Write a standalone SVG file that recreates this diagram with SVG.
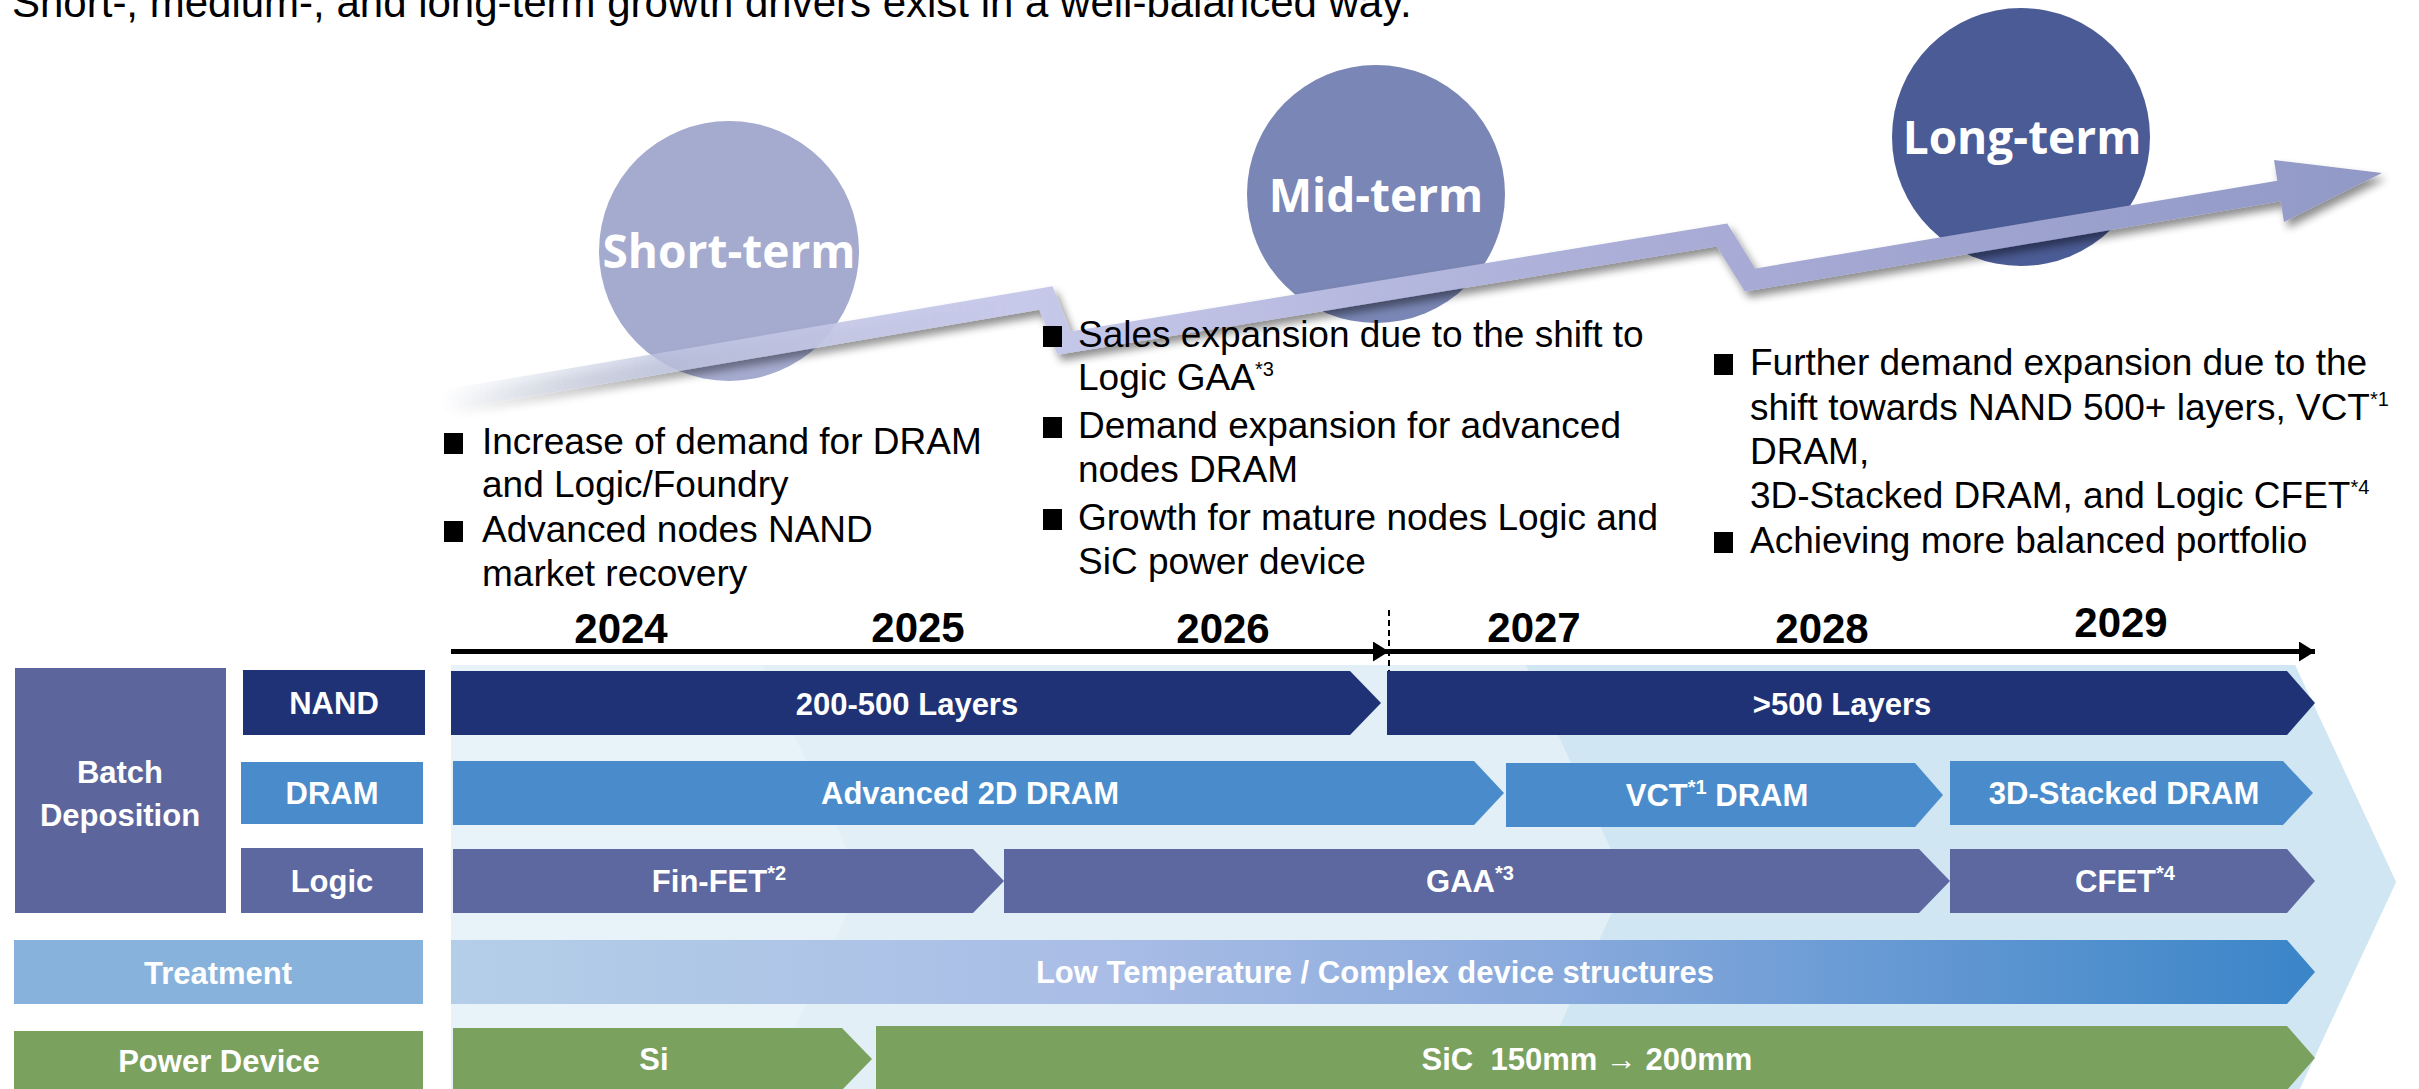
<svg xmlns="http://www.w3.org/2000/svg" width="2419" height="1089" viewBox="0 0 2419 1089">
  <defs>
    <style>
      .title { font-family: "Liberation Sans", Arial, sans-serif; font-size: 42px; fill: #000; }
      .bullet { font-family: "Liberation Sans", Arial, sans-serif; font-size: 37px; fill: #000; }
      .year { font-family: "Liberation Sans", Arial, sans-serif; font-size: 42px; font-weight: bold; fill: #000; text-anchor: middle; }
      .lbl { font-family: "Liberation Sans", Arial, sans-serif; font-size: 31px; font-weight: bold; fill: #fff; text-anchor: middle; }
      .sup { font-size: 20px; }
      .term { font-family: "Open Sans", "Noto Sans", sans-serif; font-size: 46px; font-weight: bold; fill: #fff; text-anchor: middle; }
      .nand { fill: #1f3275; }
      .dram { fill: #4a8ccb; }
      .logic { fill: #5c689f; }
      .batch { fill: #5c669c; }
      .treat { fill: #87b2dc; }
      .power { fill: #7ba15f; }
      .sq { fill: #000; }
    </style>
    <linearGradient id="bandGrad" gradientUnits="userSpaceOnUse" x1="440" y1="0" x2="2382" y2="0">
      <stop offset="0" stop-color="#bcc6da" stop-opacity="0"/>
      <stop offset="0.13" stop-color="#c0c6e2" stop-opacity="0.85"/>
      <stop offset="0.3" stop-color="#c7c9ea"/>
      <stop offset="0.55" stop-color="#afb2da"/>
      <stop offset="0.8" stop-color="#9ea3cf"/>
      <stop offset="1" stop-color="#9199c6"/>
    </linearGradient>
    <linearGradient id="treatGrad" gradientUnits="userSpaceOnUse" x1="451" y1="0" x2="2315" y2="0">
      <stop offset="0" stop-color="#b4cee8"/>
      <stop offset="0.35" stop-color="#a9bde6"/>
      <stop offset="0.6" stop-color="#88a9dc"/>
      <stop offset="1" stop-color="#3a85c8"/>
    </linearGradient>
    <filter id="shadow" x="-5%" y="-30%" width="110%" height="160%">
      <feGaussianBlur in="SourceAlpha" stdDeviation="4"/>
      <feOffset dx="4" dy="6" result="b"/>
      <feComponentTransfer><feFuncA type="linear" slope="0.45"/></feComponentTransfer>
      <feMerge><feMergeNode/><feMergeNode in="SourceGraphic"/></feMerge>
    </filter>
    <marker id="axisHead" viewBox="0 0 16 20" refX="16" refY="10" markerWidth="16" markerHeight="20" markerUnits="userSpaceOnUse" orient="auto">
      <path d="M0,0 L16,10 L0,20 Z" fill="#000"/>
    </marker>
  </defs>

  <rect width="2419" height="1089" fill="#fff"/>

  <!-- heading -->
  <text class="title" x="12" y="17">Short-, medium-, and long-term growth drivers exist in a well-balanced way.</text>

  <!-- layered chevron backdrop behind the roadmap rows -->
  <g id="backdrop">
    <polygon points="451,665 2295,665 2396,882 2295,1099 451,1099" fill="#e8f3f9"/>
    <polygon points="762,665 2295,665 2396,882 2295,1099 762,1099 862,882" fill="#e2eff7"/>
    <polygon points="1526,665 2295,665 2396,882 2295,1099 1526,1099 1626,882" fill="#d0e6f2"/>
  </g>

  <!-- term circles -->
  <g id="short-term">
    <circle cx="729" cy="251" r="130" fill="#a5abcf"/>
    <text class="term" x="729" y="268">Short-term</text>
  </g>
  <g id="mid-term">
    <circle cx="1376" cy="194" r="129" fill="#7a86b5"/>
    <text class="term" x="1376" y="212">Mid-term</text>
  </g>
  <g id="long-term">
    <circle cx="2021" cy="137" r="129" fill="#4b5b95"/>
    <text class="term" x="2022" y="154">Long-term</text>
  </g>

  <g id="connectors">
    <!-- rising growth arrow -->
    <g filter="url(#shadow)">
      <polyline points="440,401 1046,298 1064,343 1722,235 1750,280 2285,190" fill="none" stroke="url(#bandGrad)" stroke-width="21" stroke-linejoin="miter"/>
      <polygon points="2274,160 2382,173 2284,222" fill="url(#bandGrad)"/>
    </g>
    <!-- year axis -->
    <line x1="451" y1="651.5" x2="1389" y2="651.5" stroke="#000" stroke-width="5" marker-end="url(#axisHead)"/>
    <line x1="1389" y1="651.5" x2="2315" y2="651.5" stroke="#000" stroke-width="5" marker-end="url(#axisHead)"/>
    <line x1="1389" y1="610" x2="1389" y2="672" stroke="#000" stroke-width="2" stroke-dasharray="6,4"/>
  </g>

  <!-- short-term bullets -->
  <g id="short-bullets">
    <rect class="sq" x="444" y="433" width="19" height="21"/>
    <rect class="sq" x="444" y="521" width="19" height="21"/>
    <text class="bullet" x="482"><tspan x="482" y="454">Increase of demand for DRAM</tspan><tspan x="482" y="497">and Logic/Foundry</tspan><tspan x="482" y="542">Advanced nodes NAND</tspan><tspan x="482" y="586">market recovery</tspan></text>
  </g>

  <!-- mid-term bullets -->
  <g id="mid-bullets">
    <rect class="sq" x="1043" y="326" width="19" height="21"/>
    <rect class="sq" x="1043" y="417" width="19" height="21"/>
    <rect class="sq" x="1043" y="509" width="19" height="21"/>
    <text class="bullet"><tspan x="1078" y="347">Sales expansion due to the shift to</tspan><tspan x="1078" y="390">Logic GAA</tspan><tspan class="sup" dy="-14">*3</tspan><tspan x="1078" y="438">Demand expansion for advanced</tspan><tspan x="1078" y="482">nodes DRAM</tspan><tspan x="1078" y="530">Growth for mature nodes Logic and</tspan><tspan x="1078" y="574">SiC power device</tspan></text>
  </g>

  <!-- long-term bullets -->
  <g id="long-bullets">
    <rect class="sq" x="1714" y="354" width="19" height="21"/>
    <rect class="sq" x="1714" y="532" width="19" height="21"/>
    <text class="bullet"><tspan x="1750" y="375">Further demand expansion due to the</tspan><tspan x="1750" y="420">shift towards NAND 500+ layers, VCT</tspan><tspan class="sup" dy="-14">*1</tspan><tspan x="1750" y="464">DRAM,</tspan><tspan x="1750" y="508">3D-Stacked DRAM, and Logic CFET</tspan><tspan class="sup" dy="-14">*4</tspan><tspan x="1750" y="553">Achieving more balanced portfolio</tspan></text>
  </g>

  <!-- year labels -->
  <g id="years">
    <text class="year" x="621" y="643">2024</text>
    <text class="year" x="918" y="642">2025</text>
    <text class="year" x="1223" y="643">2026</text>
    <text class="year" x="1534" y="642">2027</text>
    <text class="year" x="1822" y="643">2028</text>
    <text class="year" x="2121" y="637">2029</text>
  </g>

  <!-- row headers -->
  <g id="batch-deposition">
    <rect class="batch" x="15" y="668" width="211" height="245"/>
    <text class="lbl" x="120"><tspan x="120" y="783">Batch</tspan><tspan x="120" y="826">Deposition</tspan></text>
  </g>
  <g id="nand-label">
    <rect class="nand" x="243" y="670" width="182" height="65"/>
    <text class="lbl" x="334" y="714">NAND</text>
  </g>
  <g id="dram-label">
    <rect class="dram" x="241" y="762" width="182" height="62"/>
    <text class="lbl" x="332" y="804">DRAM</text>
  </g>
  <g id="logic-label">
    <rect class="logic" x="241" y="848" width="182" height="65"/>
    <text class="lbl" x="332" y="892">Logic</text>
  </g>
  <g id="treatment-label">
    <rect class="treat" x="14" y="940" width="409" height="64"/>
    <text class="lbl" x="218" y="984">Treatment</text>
  </g>
  <g id="power-label">
    <rect class="power" x="14" y="1031" width="409" height="60"/>
    <text class="lbl" x="219" y="1072">Power Device</text>
  </g>

  <!-- NAND row -->
  <g id="nand-200-500">
    <polygon class="nand" points="451,671 1350,671 1381,703 1350,735 451,735"/>
    <text class="lbl" x="907" y="715">200-500 Layers</text>
  </g>
  <g id="nand-500plus">
    <polygon class="nand" points="1387,671 2287,671 2315,703 2287,735 1387,735"/>
    <text class="lbl" x="1842" y="715">&gt;500 Layers</text>
  </g>

  <!-- DRAM row -->
  <g id="dram-2d">
    <polygon class="dram" points="453,761 1474,761 1504,793 1474,825 453,825"/>
    <text class="lbl" x="970" y="804">Advanced 2D DRAM</text>
  </g>
  <g id="dram-vct">
    <polygon class="dram" points="1506,763 1915,763 1943,795 1915,827 1506,827"/>
    <text class="lbl" x="1717" y="806">VCT<tspan class="sup" dy="-12">*1</tspan><tspan dy="12"> DRAM</tspan></text>
  </g>
  <g id="dram-3d">
    <polygon class="dram" points="1950,761 2283,761 2313,793 2283,825 1950,825"/>
    <text class="lbl" x="2124" y="804">3D-Stacked DRAM</text>
  </g>

  <!-- Logic row -->
  <g id="logic-finfet">
    <polygon class="logic" points="453,849 973,849 1004,881 973,913 453,913"/>
    <text class="lbl" x="719" y="892">Fin-FET<tspan class="sup" dy="-12">*2</tspan></text>
  </g>
  <g id="logic-gaa">
    <polygon class="logic" points="1004,849 1919,849 1950,881 1919,913 1004,913"/>
    <text class="lbl" x="1470" y="892">GAA<tspan class="sup" dy="-12">*3</tspan></text>
  </g>
  <g id="logic-cfet">
    <polygon class="logic" points="1950,849 2287,849 2315,881 2287,913 1950,913"/>
    <text class="lbl" x="2125" y="892">CFET<tspan class="sup" dy="-12">*4</tspan></text>
  </g>

  <!-- Treatment row -->
  <g id="treatment-bar">
    <polygon points="451,940 2287,940 2315,972 2287,1004 451,1004" fill="url(#treatGrad)"/>
    <text class="lbl" x="1375" y="983">Low Temperature / Complex device structures</text>
  </g>

  <!-- Power device row -->
  <g id="power-si">
    <polygon class="power" points="453,1028 842,1028 872,1059 842,1090 453,1090"/>
    <text class="lbl" x="654" y="1070">Si</text>
  </g>
  <g id="power-sic">
    <polygon class="power" points="876,1026 2287,1026 2315,1058 2287,1090 876,1090"/>
    <text class="lbl" x="1587" y="1070" xml:space="preserve">SiC  150mm → 200mm</text>
  </g>
</svg>
